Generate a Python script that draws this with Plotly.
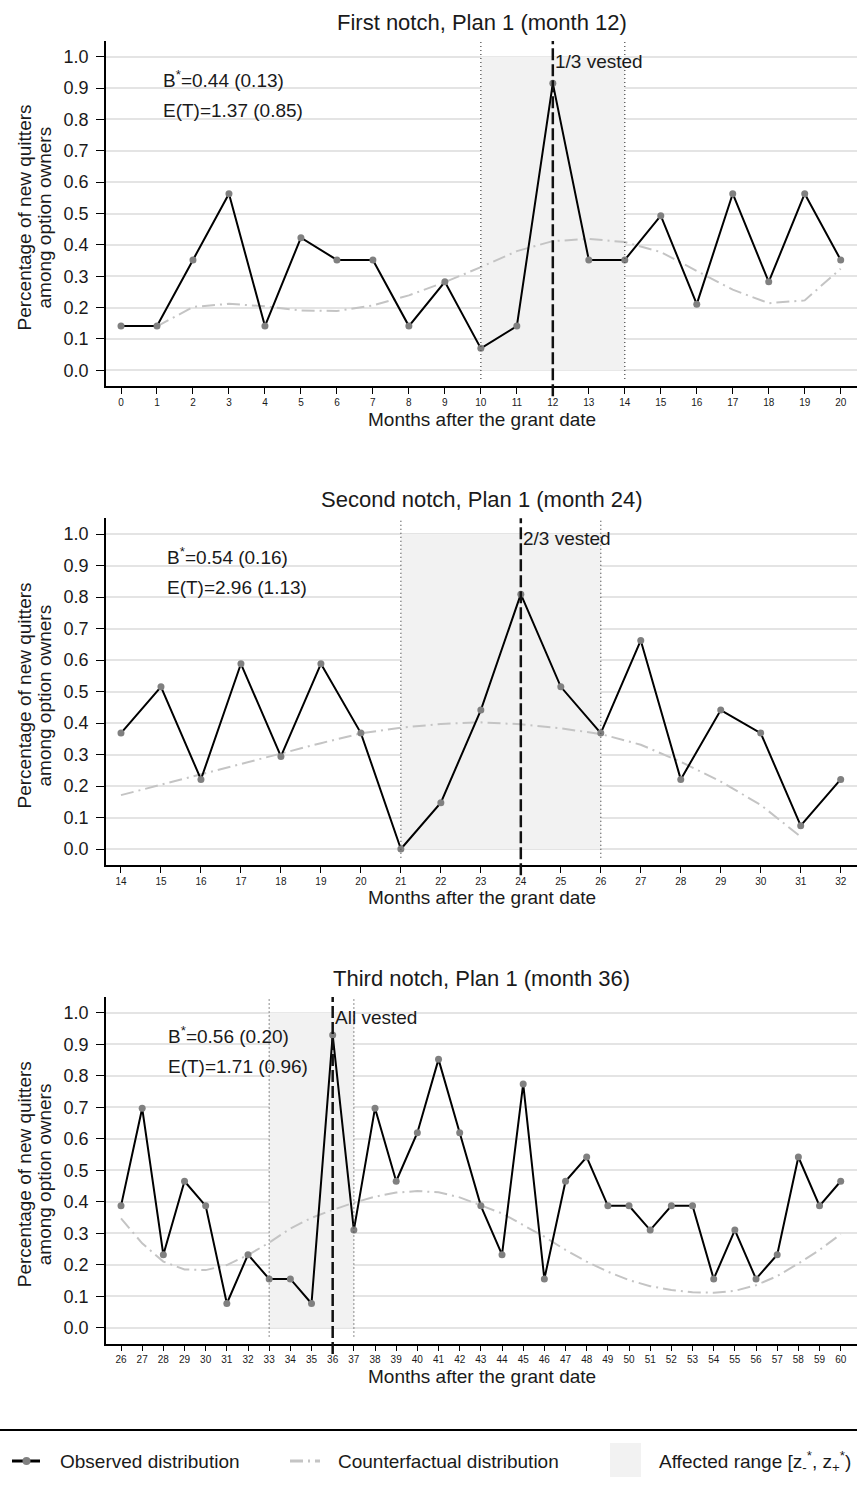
import plotly.graph_objects as go

# ---------------------------------------------------------------- data
months_1 = list(range(0, 21))
observed_1 = [0.141, 0.141, 0.352, 0.563, 0.141, 0.423, 0.352, 0.352, 0.141, 0.282,
              0.070, 0.141, 0.915, 0.352, 0.352, 0.493, 0.211, 0.563, 0.282, 0.563, 0.352]
cf_months_1 = list(range(1, 21))
counterfactual_1 = [0.140, 0.202, 0.212, 0.204, 0.191, 0.189, 0.207, 0.239, 0.281, 0.329,
                    0.380, 0.412, 0.419, 0.409, 0.377, 0.316, 0.257, 0.214, 0.223, 0.324]

months_2 = list(range(14, 33))
observed_2 = [0.368, 0.515, 0.221, 0.588, 0.294, 0.588, 0.368, 0.000, 0.147, 0.441,
              0.809, 0.515, 0.368, 0.662, 0.221, 0.441, 0.368, 0.074, 0.221]
cf_months_2 = list(range(14, 32))
counterfactual_2 = [0.171, 0.204, 0.238, 0.270, 0.305, 0.336, 0.367, 0.385, 0.397, 0.402,
                    0.396, 0.383, 0.365, 0.331, 0.277, 0.214, 0.140, 0.039]

months_3 = list(range(26, 61))
observed_3 = [0.387, 0.697, 0.232, 0.465, 0.387, 0.077, 0.232, 0.155, 0.155, 0.077,
              0.929, 0.310, 0.697, 0.465, 0.619, 0.852, 0.619, 0.387, 0.232, 0.774,
              0.155, 0.465, 0.542, 0.387, 0.387, 0.310, 0.387, 0.387, 0.155, 0.310,
              0.155, 0.232, 0.542, 0.387, 0.465]
cf_months_3 = list(range(26, 61))
counterfactual_3 = [0.347, 0.268, 0.210, 0.185, 0.183, 0.199, 0.231, 0.270, 0.315, 0.349,
                    0.374, 0.397, 0.416, 0.429, 0.434, 0.430, 0.414, 0.389, 0.363, 0.326,
                    0.289, 0.247, 0.210, 0.178, 0.151, 0.132, 0.120, 0.113, 0.111, 0.117,
                    0.135, 0.164, 0.204, 0.247, 0.297]

titles = ["First notch, Plan 1 (month 12)",
          "Second notch, Plan 1 (month 24)",
          "Third notch, Plan 1 (month 36)"]
notch_months = [12, 24, 36]
vested_labels = ["1/3 vested", "2/3 vested", "All vested"]
range_low = [10, 21, 33]
range_high = [14, 26, 37]
bunching = ["0.44 (0.13)", "0.54 (0.16)", "0.56 (0.20)"]
delay = ["1.37 (0.85)", "2.96 (1.13)", "1.71 (0.96)"]

y_ticks = [round(0.1 * i, 1) for i in range(11)]

panels = [
    (months_1, observed_1, cf_months_1, counterfactual_1),
    (months_2, observed_2, cf_months_2, counterfactual_2),
    (months_3, observed_3, cf_months_3, counterfactual_3),
]

# ---------------------------------------------------------------- geometry
W, H = 857, 1485
ML = 106
FONT = "Liberation Sans, Arial, Helvetica, sans-serif"
TXT = "#1a1a1a"

panel_top = [41, 518.25, 997]
panel_bottom = [386, 864.75, 1343.5]
x_ranges = [[-0.417, 20.453], [13.625, 32.408], [25.291, 60.77]]
stat_x = [0.073, 0.078, 0.080]


def py(p):
    return 1 - p / H


def px(p):
    return (p - ML) / (W - ML)


fig = go.Figure()
shapes = []
annotations = []
layout_axes = {}

for i, (mx, obs, cmx, cf) in enumerate(panels):
    s = "" if i == 0 else str(i + 1)
    xa, ya = "x" + s, "y" + s
    lo, hi = range_low[i], range_high[i]

    # affected range
    fig.add_trace(go.Scatter(
        x=[lo, hi, hi, lo, lo], y=[0, 0, 1, 1, 0],
        mode="lines", fill="toself", fillcolor="#f2f2f2",
        line=dict(width=0), hoverinfo="skip", showlegend=False,
        xaxis=xa, yaxis=ya))
    # counterfactual
    fig.add_trace(go.Scatter(
        x=cmx, y=cf, mode="lines",
        line=dict(color="#c4c4c4", width=2, dash="13px,5px,2px,5px"),
        showlegend=False, xaxis=xa, yaxis=ya))
    # observed
    fig.add_trace(go.Scatter(
        x=mx, y=obs, mode="lines+markers",
        line=dict(color="black", width=2),
        marker=dict(color="#808080", size=7),
        showlegend=False, xaxis=xa, yaxis=ya))

    dom = [py(panel_bottom[i]), py(panel_top[i])]
    layout_axes["xaxis" + s] = dict(
        domain=[0, 1], anchor=ya, range=x_ranges[i],
        tickmode="array", tickvals=mx, ticktext=[str(m) for m in mx],
        ticks="outside", ticklen=6, tickwidth=1.2, tickcolor="black",
        showline=True, linecolor="black", linewidth=1.5,
        showgrid=False, zeroline=False,
        tickfont=dict(family=FONT, size=10, color=TXT))
    layout_axes["yaxis" + s] = dict(
        domain=dom, anchor=xa, range=[-0.05, 1.05],
        tickvals=y_ticks, ticktext=[f"{v:.1f}" for v in y_ticks],
        ticks="outside", ticklen=8, tickwidth=1.2, tickcolor="black",
        showline=True, linecolor="black", linewidth=1.5,
        showgrid=True, gridcolor="#e4e4e4", gridwidth=1.5,
        zeroline=False, ticklabelstandoff=4,
        tickfont=dict(family=FONT, size=18, color=TXT))

    # bounds of the affected range
    for b in (lo, hi):
        shapes.append(dict(type="line", xref=xa, yref=ya + " domain",
                           x0=b, x1=b, y0=0.02, y1=1.0, layer="above",
                           line=dict(color="#444444", width=1.2, dash="1px,3px")))
    # vesting date
    shapes.append(dict(type="line", xref=xa, yref=ya + " domain",
                       x0=notch_months[i], x1=notch_months[i], y0=-0.03, y1=1.0,
                       layer="above",
                       line=dict(color="#111111", width=2.5, dash="12px,4px")))

    annotations += [
        dict(text=titles[i], xref="paper", yref="paper", x=0.5,
             y=py(panel_top[i] - 19), xanchor="center", yanchor="middle",
             showarrow=False, font=dict(family=FONT, size=22, color=TXT)),
        dict(text="B<sup>*</sup>=" + bunching[i], xref=xa + " domain", yref=ya,
             x=stat_x[i], y=0.93, xanchor="left", yanchor="middle",
             showarrow=False, font=dict(family=FONT, size=19, color=TXT)),
        dict(text="E(T)=" + delay[i], xref=xa + " domain", yref=ya,
             x=stat_x[i], y=0.83, xanchor="left", yanchor="middle",
             showarrow=False, font=dict(family=FONT, size=19, color=TXT)),
        dict(text=vested_labels[i], xref=xa, yref=ya,
             x=notch_months[i], y=0.985, xanchor="left", yanchor="middle",
             showarrow=False, font=dict(family=FONT, size=19, color=TXT)),
        dict(text="Months after the grant date", xref="paper", yref="paper",
             x=0.5, y=py(panel_bottom[i] + 33), xanchor="center", yanchor="middle",
             showarrow=False, font=dict(family=FONT, size=19, color=TXT)),
    ]
    mid = (panel_top[i] + panel_bottom[i]) / 2 + 4
    for line_txt, cx in (("Percentage of new quitters", 24), ("among option owners", 44)):
        annotations.append(dict(text=line_txt, xref="paper", yref="paper",
                                x=px(cx), y=py(mid), xanchor="center", yanchor="middle",
                                textangle=-90, showarrow=False,
                                font=dict(family=FONT, size=19, color=TXT)))

# ---------------------------------------------------------------- legend
LY = 1461
shapes += [
    dict(type="line", xref="paper", yref="paper", x0=px(0), x1=px(W),
         y0=py(1430), y1=py(1430), line=dict(color="black", width=2)),
    dict(type="line", xref="paper", yref="paper", x0=px(12), x1=px(40),
         y0=py(LY), y1=py(LY), line=dict(color="black", width=3)),
    dict(type="circle", xref="paper", yref="paper", x0=px(22.5), x1=px(30.5),
         y0=py(LY + 4), y1=py(LY - 4), fillcolor="#808080", line=dict(width=0)),
    dict(type="line", xref="paper", yref="paper", x0=px(290), x1=px(320),
         y0=py(LY), y1=py(LY),
         line=dict(color="#c4c4c4", width=3, dash="13px,5px,2px,5px")),
    dict(type="rect", xref="paper", yref="paper", x0=px(610), x1=px(641),
         y0=py(1477), y1=py(1443), fillcolor="#f2f2f2", line=dict(width=0)),
]
legend_items = [
    ("Observed distribution", 58),
    ("Counterfactual distribution", 336),
    ("Affected range [z<sub>-</sub><sup>*</sup>, z<sub>+</sub><sup>*</sup>)", 657),
]
for txt, x0 in legend_items:
    annotations.append(dict(text=txt, xref="paper", yref="paper", x=px(x0), y=py(LY),
                            xanchor="left", yanchor="middle", showarrow=False,
                            font=dict(family=FONT, size=19, color=TXT)))

fig.update_layout(
    width=W, height=H, autosize=False,
    margin=dict(l=ML, r=0, t=0, b=0),
    paper_bgcolor="white", plot_bgcolor="white",
    showlegend=False,
    shapes=shapes, annotations=annotations,
    **layout_axes,
)

fig.write_html("out.html", config={"displayModeBar": False})
